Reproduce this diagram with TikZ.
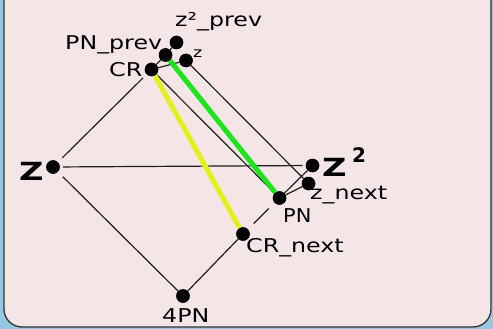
\documentclass[tikz,border=0pt]{standalone}
\usepackage{fontspec}
\usepackage{graphicx}
\setmainfont{DejaVu Sans}
\definecolor{cardpink}{RGB}{244,230,230}
\definecolor{deskblue}{RGB}{150,200,228}
\definecolor{linegreen}{RGB}{30,228,30}
\definecolor{lineyellow}{RGB}{228,240,30}
\newcommand\hw[1]{\scalebox{1.25}[1]{#1}}
\tikzset{
  dot/.style={circle,fill=black,inner sep=0pt,minimum size=13.5pt},
  link/.style={draw=black!88,line width=1.2pt},
  hilite/.style={line width=5pt},
  lbl/.style={inner sep=0pt,anchor=base west,font=\fontsize{19}{19}\selectfont},
}
\begin{document}
\begin{tikzpicture}[x=1pt,y=-1pt]
\useasboundingbox (0,0) rectangle (493,329);
% desk and card
\fill[deskblue] (0,0) rectangle (493,329);
\filldraw[fill=cardpink,draw=black!80,line width=1.3pt,rounded corners=18pt]
  (4,-30) rectangle (491,327);

% point positions
\coordinate (pZ) at (53,167);
\coordinate (pCR) at (151.5,69.5);
\coordinate (pPNp) at (165.5,55);
\coordinate (pZZp) at (176.5,42.5);
\coordinate (pz) at (186,60.5);
\coordinate (pZZ) at (312.5,165.5);
\coordinate (pzn) at (308.5,183.5);
\coordinate (pPN) at (279.5,198);
\coordinate (pCRn) at (243,234);
\coordinate (p4PN) at (183,296);

\node[dot] (Z) at (pZ) {};
\node[dot] (CR) at (pCR) {};
\node[dot] (PNp) at (pPNp) {};
\node[dot] (ZZp) at (pZZp) {};
\node[dot] (z) at (pz) {};
\node[dot] (ZZ) at (pZZ) {};
\node[dot] (zn) at (pzn) {};
\node[dot] (PN) at (pPN) {};
\node[dot] (CRn) at (pCRn) {};
\node[dot] (FPN) at (p4PN) {};

% thin connectors
\draw[link,shorten <=6pt,shorten >=5pt] (Z) -- (CR);
\draw[link,shorten <=3pt,shorten >=3pt] (Z) -- (ZZ);
\draw[link,shorten <=7pt] (Z) -- (FPN);
\draw[link] (FPN) -- (CRn);
\draw[link,shorten <=8pt,shorten >=8pt] (CRn) -- (PN);
\draw[link] (PN) -- (ZZ);
\draw[link] (PN) -- (zn);
\draw[link] (z) -- (zn);
\draw[link] (CR) -- (PN);
\draw[link] (CR) -- (z);
\draw[link] (CR) -- (PNp);
\draw[link] (PNp) -- (ZZp);

% highlighted connectors
\draw[hilite,draw=lineyellow] (CR) -- (CRn);
\draw[hilite,draw=linegreen] (PNp) -- (PN);

% dots drawn again on top of the connectors
\foreach \p in {pZ,pCR,pPNp,pZZp,pz,pZZ,pzn,pPN,pCRn,p4PN}
  \fill (\p) circle (6.75pt);

% labels
\node[lbl] (tZZp) at (175,27) {\hw{z²\_prev}};
\node[lbl] (tPNp) at (65,50) {\hw{PN\_prev}};
\node[lbl] (tCR) at (109,77) {\hw{CR}};
\node[lbl,font=\fontsize{14}{14}\selectfont] (tz) at (193,58) {\hw{z}};
\node[lbl] (tzn) at (310,199) {\hw{z\_next}};
\node[lbl] (tPN) at (283,222) {\scalebox{1.1}[1]{PN}};
\node[lbl] (tCRn) at (246,252) {\hw{CR\_next}};
\node[lbl] (t4PN) at (162,322) {\hw{4PN}};
\node[lbl,font=\fontsize{25}{25}\bfseries] (tZ) at (19,180) {\scalebox{1.35}[1]{Z}};
\node[lbl,font=\fontsize{25}{25}\bfseries] (tZZ) at (322,176) {\scalebox{1.35}[1]{Z}};
\node[lbl,font=\fontsize{20}{20}\bfseries] (tsq) at (352,162) {2};
\end{tikzpicture}
\end{document}
